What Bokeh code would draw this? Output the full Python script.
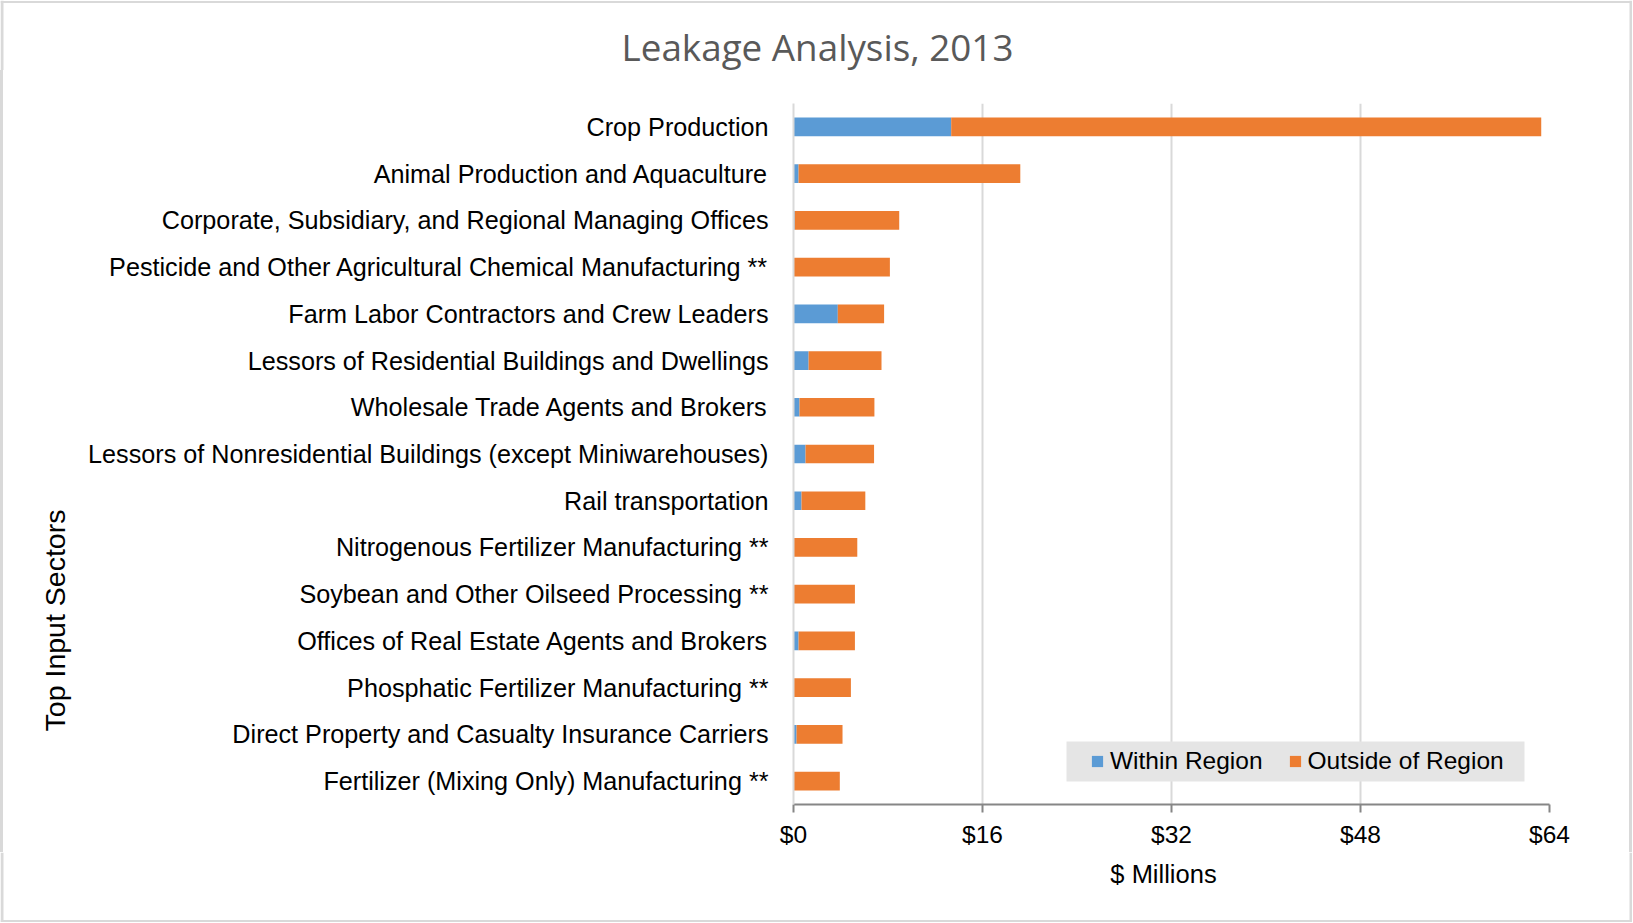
from bokeh.plotting import figure
from bokeh.models import (ColumnDataSource, FactorRange, Range1d, FixedTicker,
                          Legend, LegendItem, Label, BoxAnnotation, Span, Div)
from bokeh.layouts import column, row
from bokeh.embed import file_html
from bokeh.resources import INLINE

categories = [
    "Crop Production",
    "Animal Production and Aquaculture",
    "Corporate, Subsidiary, and Regional Managing Offices",
    "Pesticide and Other Agricultural Chemical Manufacturing **",
    "Farm Labor Contractors and Crew Leaders",
    "Lessors of Residential Buildings and Dwellings",
    "Wholesale Trade Agents and Brokers",
    "Lessors of Nonresidential Buildings (except Miniwarehouses)",
    "Rail transportation",
    "Nitrogenous Fertilizer Manufacturing **",
    "Soybean and Other Oilseed Processing **",
    "Offices of Real Estate Agents and Brokers",
    "Phosphatic Fertilizer Manufacturing **",
    "Direct Property and Casualty Insurance Carriers",
    "Fertilizer (Mixing Only) Manufacturing **",
]
within_region = [13.35, 0.43, 0.10, 0.0, 3.75, 1.28, 0.51, 1.02, 0.68, 0.0, 0.0, 0.43, 0.0, 0.26, 0.0]
outside_region = [49.95, 18.77, 8.85, 8.16, 3.92, 6.17, 6.34, 5.80, 5.40, 5.40, 5.20, 4.77, 4.86, 3.89, 3.92]
series_names = ["Within Region", "Outside of Region"]
x_ticks = [0, 16, 32, 48, 64]
x_tick_labels = ["$0", "$16", "$32", "$48", "$64"]
chart_title = "Leakage Analysis, 2013"
y_title = "Top Input Sectors"
x_title = "$ Millions"

BLUE = "#5b9bd5"
ORANGE = "#ed7d31"
FONT = "Liberation Sans"
BORDER = "#d9d9d9"

W, H = 1632, 922
TOP_H, BOT_H, LEFT_W, RIGHT_W = 70, 70, 80, 10
EDGE = 3
MID_H = H - TOP_H - BOT_H
MAIN_W = W - LEFT_W - RIGHT_W
FRAME_L, FRAME_T, FRAME_W, FRAME_H = 793, 103, 756, 701
B_TOP = FRAME_T - TOP_H
B_BOT = MID_H - B_TOP - FRAME_H


def strip(w, h, bt=0, bb=0):
    f = figure(width=w, height=h, x_range=Range1d(0, w), y_range=Range1d(0, h - bt - bb),
               x_axis_type=None, y_axis_type=None, min_border=0,
               min_border_top=bt, min_border_bottom=bb,
               output_backend="svg", toolbar_location=None)
    f.title = None
    f.outline_line_color = None
    f.background_fill_color = "white"
    f.border_fill_color = "white"
    return f


def edge_lines(f, w, top_line, bottom_line):
    f.add_layout(Span(location=1.5, dimension="height", line_color=BORDER, line_width=EDGE))
    f.add_layout(Span(location=w - 1.5, dimension="height", line_color=BORDER, line_width=EDGE))
    if top_line is not None:
        f.add_layout(Span(location=top_line, dimension="width", line_color=BORDER, line_width=2))
    if bottom_line is not None:
        f.add_layout(Span(location=bottom_line, dimension="width", line_color=BORDER, line_width=2))


# ---- title strip
top = strip(W, TOP_H)
top.add_layout(Label(x=817, y=TOP_H - 46, x_units="screen", y_units="screen",
                     text=chart_title, text_align="center",
                     text_baseline="middle", text_font="Open Sans",
                     text_font_size="36.8px", text_color="#595959"))
edge_lines(top, W, TOP_H - 1.5, None)

# ---- left strip (y title) with a border bar
left_bar = Div(text="", width=EDGE, height=MID_H, margin=0,
               styles={"background-color": BORDER})
left = strip(LEFT_W - EDGE, MID_H, B_TOP, B_BOT)
left.add_layout(Label(x=54 - EDGE, y=(FRAME_T + FRAME_H) - 620, x_units="screen", y_units="screen",
                      text=y_title, angle=1.5707963, angle_units="rad",
                      text_align="center", text_baseline="middle",
                      text_font=FONT, text_font_size="28.5px", text_color="#000000"))

# ---- right strip with a border bar
right_pad = Div(text="", width=RIGHT_W - EDGE, height=MID_H, margin=0,
                styles={"background-color": "white"})
right_bar = Div(text="", width=EDGE, height=MID_H, margin=0,
                styles={"background-color": BORDER})

# ---- bottom strip (x title)
bottom = strip(W, BOT_H)
bottom.add_layout(Label(x=1163, y=H - 873.5, x_units="screen", y_units="screen",
                        text=x_title, text_align="center", text_baseline="middle",
                        text_font=FONT, text_font_size="25.5px", text_color="#000000"))
edge_lines(bottom, W, None, 1.5)

# ---- main chart
src = ColumnDataSource(dict(cat=categories, within=within_region, outside=outside_region))

p = figure(y_range=FactorRange(factors=categories[::-1]), x_range=Range1d(0, 64),
           frame_width=FRAME_W, frame_height=FRAME_H,
           min_border_left=FRAME_L - LEFT_W, min_border_right=MAIN_W - (FRAME_L - LEFT_W) - FRAME_W,
           min_border_top=B_TOP, min_border_bottom=B_BOT,
           output_backend="svg", toolbar_location=None)
p.title = None

rs = p.hbar_stack(["within", "outside"], y="cat", height=0.4, color=[BLUE, ORANGE],
                  line_color=None, source=src)

p.outline_line_color = None
p.background_fill_color = "white"
p.border_fill_color = "white"

p.xaxis.ticker = FixedTicker(ticks=x_ticks)
p.xaxis.major_label_overrides = {t: s for t, s in zip(x_ticks, x_tick_labels)}
p.xaxis.axis_line_color = "#868686"
p.xaxis.axis_line_width = 2
p.xaxis.major_tick_line_color = "#868686"
p.xaxis.major_tick_line_width = 2
p.xaxis.major_tick_out = 8
p.xaxis.major_tick_in = 0
p.xaxis.minor_tick_line_color = None
p.xaxis.major_label_standoff = 8
p.xaxis.major_label_text_font = FONT
p.xaxis.major_label_text_font_size = "24.5px"
p.xaxis.major_label_text_color = "#000000"

p.yaxis.axis_line_color = BORDER
p.yaxis.axis_line_width = 2
p.yaxis.major_tick_line_color = None
p.yaxis.minor_tick_line_color = None
p.yaxis.major_label_standoff = 19
p.yaxis.major_label_text_font = FONT
p.yaxis.major_label_text_font_size = "25.2px"
p.yaxis.major_label_text_color = "#000000"

p.xgrid.ticker = FixedTicker(ticks=x_ticks)
p.xgrid.grid_line_color = BORDER
p.xgrid.grid_line_width = 2
p.ygrid.grid_line_color = None

# legend background box
p.add_layout(BoxAnnotation(left=273, right=731, bottom=23, top=63,
                           left_units="screen", right_units="screen",
                           bottom_units="screen", top_units="screen",
                           fill_color="#e5e5e5", fill_alpha=1, line_color=None))

legend = Legend(items=[LegendItem(label=series_names[0], renderers=[rs[0]]),
                       LegendItem(label=series_names[1], renderers=[rs[1]])],
                orientation="horizontal", location=(297, 29),
                background_fill_alpha=0, border_line_alpha=0,
                padding=0, margin=0, spacing=25, label_standoff=6,
                glyph_width=14, glyph_height=14,
                label_text_font=FONT, label_text_font_size="24.5px",
                label_text_color="#000000")
p.add_layout(legend, "center")

layout = column(top, row(left_bar, left, p, right_pad, right_bar), bottom)

open("out.html", "w").write(file_html(layout, INLINE))
